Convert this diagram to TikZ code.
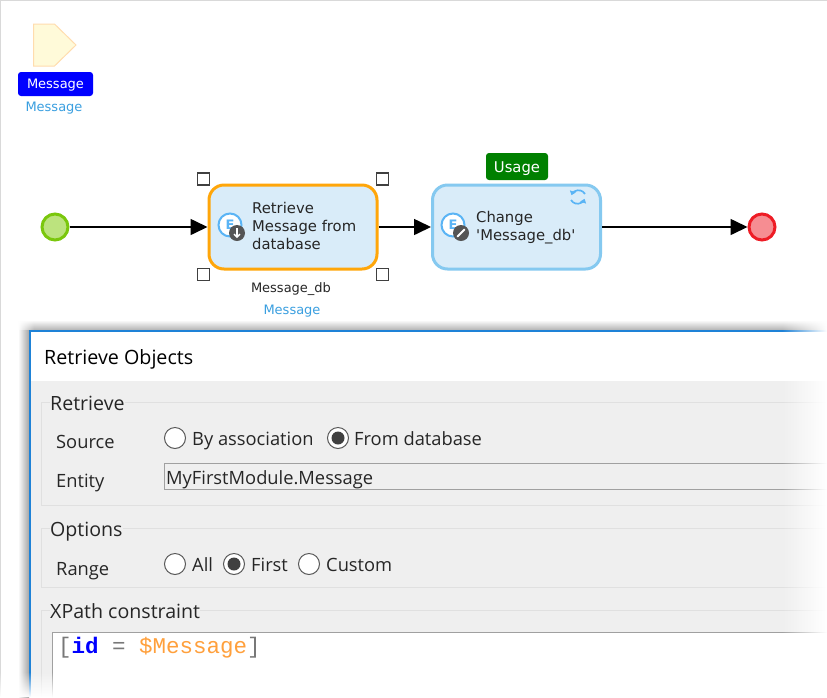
\documentclass[tikz,border=0pt]{standalone}
\usepackage{fontspec}
\usetikzlibrary{arrows.meta}
\usetikzlibrary{positioning}
\usetikzlibrary{fadings}
\newfontfamily\flowfont{DejaVu Sans}
\newfontfamily\dialogfont{Open Sans}
\newfontfamily\codefont{Liberation Mono}
\definecolor{actionfill}{RGB}{217, 236, 249}
\definecolor{selectorange}{RGB}{255, 166, 10}
\definecolor{actionblue}{RGB}{133, 201, 240}
\definecolor{iconblue}{RGB}{90, 180, 245}
\definecolor{icongray}{RGB}{85, 85, 85}
\definecolor{labelblue}{RGB}{58, 159, 224}
\definecolor{startgreen}{RGB}{122, 199, 12}
\definecolor{startfill}{RGB}{188, 227, 126}
\definecolor{endred}{RGB}{238, 28, 37}
\definecolor{endfill}{RGB}{246, 141, 146}
\definecolor{paramfill}{RGB}{255, 250, 217}
\definecolor{paramline}{RGB}{255, 220, 174}
\definecolor{usagegreen}{RGB}{0, 128, 0}
\definecolor{dialogblue}{RGB}{30, 130, 215}
\definecolor{panelgray}{RGB}{239, 239, 239}
\definecolor{groupline}{RGB}{224, 224, 224}
\definecolor{fieldline}{RGB}{160, 160, 160}
\definecolor{codeorange}{RGB}{255, 160, 60}
\definecolor{codegray}{RGB}{120, 120, 120}
\tikzfading[name=fadeeast, left color=transparent!100, right color=transparent!0]
\tikzfading[name=fadewest, left color=transparent!0, right color=transparent!100]
\tikzfading[name=fadesouth, top color=transparent!100, bottom color=transparent!0]
\tikzset{
    flowtext/.style={font=\flowfont\fontsize{14.8}{18}\selectfont, text=black!85, inner sep=0pt, align=left},
    smalltext/.style={font=\flowfont\fontsize{13}{18}\selectfont, text=black!85, inner sep=0pt, text height=11pt, text depth=3pt},
    dialogtext/.style={font=\dialogfont\fontsize{18.3}{20}\selectfont, text=black!85, inner sep=0pt, text height=16pt, text depth=2pt},
    grouptext/.style={dialogtext, anchor=west, fill=panelgray, font=\dialogfont\fontsize{19.6}{20}\selectfont},
    action/.style={draw=actionblue, fill=actionfill, line width=3pt, rounded corners=15pt, minimum width=168pt, minimum height=84pt, inner sep=0pt},
    event/.style={circle, line width=3pt, minimum size=26pt, inner sep=0pt},
    flow/.style={line width=1.6pt, -{Triangle[length=17pt,width=16pt]}},
    handle/.style={draw=black!75, fill=white, line width=1.5pt, minimum size=12pt, inner sep=0pt},
    badge/.style={rounded corners=3pt, text=white, inner sep=0pt},
    ficon/.style={circle, draw=iconblue, fill=white, line width=2pt, minimum size=23pt, inner sep=0pt, font=\flowfont\bfseries\fontsize{13}{13}\selectfont, text=iconblue},
    subicon/.style={circle, fill=icongray, minimum size=16pt, inner sep=0pt},
    radio/.style={circle, draw=black!65, fill=white, line width=1pt, minimum size=21pt, inner sep=0pt},
    radiodot/.style={circle, fill=black!75, minimum size=13pt, inner sep=0pt}
}
\begin{document}
\begin{tikzpicture}[x=1pt, y=-1pt]
    \useasboundingbox (0,0) rectangle (827,697);
    \fill[white]                       (0,0) rectangle (827,697);
    \fill[black!15]                    (0,0) rectangle (827,1);
    \fill[black!15]                    (0,0) rectangle (1,697);
    % parameter
    \draw[paramline, fill=paramfill, line width=1pt] (33.5,24) -- (54.5,24) -- (76,45) -- (54.5,66) -- (33.5,66) -- cycle;
    \node[badge, fill=blue, minimum width=75pt, minimum height=24pt, font=\flowfont\fontsize{13}{18}\selectfont, text height=12pt, text depth=3pt] (paramtype) at (55.5,84) {Message};
    \node[smalltext, text=labelblue] (paramname) at (54,107) {Message};
    % flow
    \node[event, draw=startgreen, fill=startfill] (start) at (55,227) {};
    \node[action, draw=selectorange] (retrieve) at (293,227) {};
    \node[action] (change) at (516.5,227) {};
    \node[event, draw=endred, fill=endfill] (stop) at (762,227) {};
    \draw[flow] (start) -- (retrieve);
    \draw[flow] (retrieve) -- (change);
    \draw[flow] (change) -- (stop);
    % selection handles
    \node[handle] (handlenw) at (203.5,179) {};
    \node[handle] (handlene) at (382.5,179) {};
    \node[handle] (handlesw) at (203.5,274.5) {};
    \node[handle] (handlese) at (382.5,274.5) {};
    % retrieve action
    \node[flowtext, anchor=west] (retrievetext) at (252,226) {Retrieve\\Message from\\database};
    \node[ficon] (retrieveicon) at (230,225) {E};
    \node[subicon] (retrievesub) at (237,233) {};
    \draw[white, line width=1.4pt, -{Straight Barb[length=3pt,width=6pt]}] (237,228) -- (237,238);
    \node[smalltext] (retrievevar) at (291,288) {Message\_db};
    \node[smalltext, text=labelblue] (retrievetype) at (292,310) {Message};
    % change action
    \node[flowtext, anchor=west] (changetext) at (476,228) {Change\\'Message\_db'};
    \node[ficon] (changeicon) at (453,225) {E};
    \node[subicon] (changesub) at (461,233) {};
    \draw[white, line width=2pt, line cap=round] (457.5,236.5) -- (464.5,229.5);
    \node[badge, fill=usagegreen, minimum width=62pt, minimum height=27pt, font=\flowfont\fontsize{14.8}{18}\selectfont, text height=13pt, text depth=2pt] (usage) at (517,166.5) {Usage};
    \draw[iconblue, line width=1.7pt, -{Triangle[length=4pt,width=6pt]}] (585,194) arc[start angle=-30, end angle=-160, radius=7.5];
    \draw[iconblue, line width=1.7pt, -{Triangle[length=4pt,width=6pt]}] (571,200) arc[start angle=150, end angle=20, radius=7.5];
    % dialog shadow
    \shade[top color=white, bottom color=black!30] (18,320) rectangle (827,330);
    \fill[white, path fading=fadewest]  (18,318) rectangle (34,330);
    \shade[left color=white, right color=black!35] (18,330) rectangle (29,697);
    % dialog
    \fill[white]                        (29,330) rectangle (827,697);
    \fill[dialogblue]                   (29,330) rectangle (827,332);
    \fill[dialogblue]                   (29,330) rectangle (31,697);
    \fill[panelgray]                    (31,381) rectangle (827,697);
    \node[dialogtext, anchor=west, font=\dialogfont\fontsize{19.7}{20}\selectfont, text=black] (title) at (44,357) {Retrieve Objects};
    % retrieve group
    \draw[groupline, line width=1pt] (827,402.5) -- (41.5,402.5) -- (41.5,505.5) -- (827,505.5);
    \node[grouptext] (retrievegroup) at (50,403) {Retrieve~};
    \node[dialogtext, anchor=west] (source) at (56,441) {Source};
    \node[dialogtext, anchor=west] (entity) at (56,480) {Entity};
    \node[radio] (radioassoc) at (175,438) {};
    \node[dialogtext, right=6pt of radioassoc] (assoctext) {By association};
    \node[radio] (radiodb) at (338,438) {};
    \node[radiodot] (dotdb) at (radiodb) {};
    \node[dialogtext, right=5pt of radiodb] (dbtext) {From database};
    \draw[fieldline, line width=1pt] (827,463.5) -- (164.5,463.5) -- (164.5,489.5) -- (827,489.5);
    \node[dialogtext, anchor=west] (entityvalue) at (166,477) {MyFirstModule.Message};
    % options group
    \draw[groupline, line width=1pt] (827,528.5) -- (41.5,528.5) -- (41.5,587.5) -- (827,587.5);
    \node[grouptext] (optionsgroup) at (50,529) {Options~};
    \node[dialogtext, anchor=west] (range) at (56,568) {Range};
    \node[radio] (radioall) at (175,564) {};
    \node[dialogtext, right=6pt of radioall] (alltext) {All};
    \node[radio] (radiofirst) at (234,564) {};
    \node[radiodot] (dotfirst) at (radiofirst) {};
    \node[dialogtext, right=6pt of radiofirst] (firsttext) {First};
    \node[radio] (radiocustom) at (309,564) {};
    \node[dialogtext, right=6pt of radiocustom] (customtext) {Custom};
    % xpath group
    \draw[groupline, line width=1pt] (827,610.5) -- (41.5,610.5) -- (41.5,697);
    \node[grouptext] (xpathgroup) at (50,611) {XPath constraint~};
    \fill[white]                        (52,632) rectangle (827,697);
    \draw[fieldline, line width=1.5pt]  (52.5,697) -- (52.5,632.5) -- (827,632.5);
    \node[inner sep=0pt, anchor=west, font=\codefont\fontsize{22.5}{24}\selectfont, text=codegray] (xpath) at (58,648)
        {[\textcolor{blue}{\textbf{id}} = \textcolor{codeorange}{\$Message}]};
    % fade out
    \fill[white, path fading=fadeeast]  (782,318) rectangle (827,697);
    \fill[white, path fading=fadesouth] (0,672) rectangle (60,697);
\end{tikzpicture}
\end{document}
